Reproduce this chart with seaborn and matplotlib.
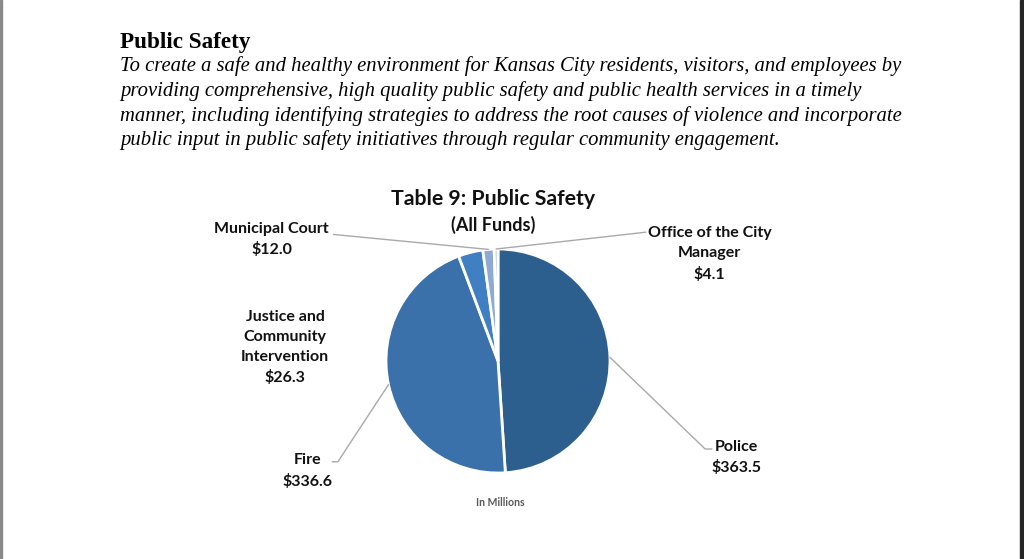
import numpy as np
import matplotlib.pyplot as plt
import seaborn as sns
from matplotlib.patches import Rectangle

# data (in millions)
departments = ['Police', 'Fire', 'Justice and\nCommunity\nIntervention',
               'Municipal Court', 'Office of the City\nManager']
amounts = [363.5, 336.6, 26.3, 12.0, 4.1]
amount_labels = ['$363.5', '$336.6', '$26.3', '$12.0', '$4.1']
colors = ['#2D5F8E', '#3A71AA', '#3F7FC2', '#8FA9D4', '#B7C6E2']

paragraph = [
    'To create a safe and healthy environment for Kansas City residents, visitors, and employees by',
    'providing comprehensive, high quality public safety and public health services in a timely',
    'manner, including identifying strategies to address the root causes of violence and incorporate',
    'public input in public safety initiatives through regular community engagement.',
]

sns.set_theme(style='white')
plt.rcParams['font.family'] = ['Lato', 'DejaVu Sans']

fig = plt.figure(figsize=(10.24, 5.59), dpi=100)
fig.patch.set_facecolor('white')

# page edges
fig.patches.append(Rectangle((0, 0), 0.0015, 1, transform=fig.transFigure,
                             color='#8a8a8a', zorder=10))
fig.patches.append(Rectangle((1020 / 1024, 0), 4 / 1024, 1, transform=fig.transFigure,
                             color='#262626', zorder=10))

# header text
fig.text(120 / 1024, 1 - 48 / 559, 'Public Safety', family='Liberation Serif',
         weight='bold', fontsize=16.7, color='black', va='baseline')
for i, line in enumerate(paragraph):
    fig.text(120 / 1024, 1 - (71.5 + i * 24.5) / 559, line, family='Liberation Serif',
             style='italic', fontsize=14.9, color='black', va='baseline')

# pie
cx, cy, r = 498, 361, 112
ax = fig.add_axes([(cx - r) / 1024, (559 - cy - r) / 559, 2 * r / 1024, 2 * r / 559])
wedges, _ = ax.pie(amounts, colors=colors, startangle=90, counterclock=False,
                   wedgeprops=dict(edgecolor='white', linewidth=2))
ax.set_xlim(-1, 1)
ax.set_ylim(-1, 1)
ax.axis('off')

fig.text(493 / 1024, 1 - 199 / 559, 'Table 9: Public Safety', ha='center', va='center',
         weight='bold', fontsize=15.3, color='#111111')
fig.text(493 / 1024, 1 - 225 / 559, '(All Funds)', ha='center', va='center',
         weight='bold', fontsize=13, color='#111111')
fig.text(500 / 1024, 1 - 503 / 559, 'In Millions', ha='center', va='center',
         weight='bold', fontsize=7.6, color='#595959')

# label layout (data units of the pie axes): text centre, leader line points
layout = {
    0: dict(text=(2.13, -0.86), line=[(1.85, -0.786), (1.91, -0.786)]),
    1: dict(text=(-1.70, -0.98), line=[(-1.43, -0.90), (-1.48, -0.90)]),
    2: dict(text=(-1.90, 0.12), line=None),
    3: dict(text=(-2.02, 1.085), line=[(-1.47, 1.13)]),
    4: dict(text=(1.89, 0.955), line=[(1.32, 1.15)]),
}

for i, w in enumerate(wedges):
    mid = np.deg2rad((w.theta1 + w.theta2) / 2)
    spec = layout[i]
    if spec['line']:
        pts = [(np.cos(mid), np.sin(mid))] + spec['line']
        xs, ys = zip(*pts)
        ax.plot(xs, ys, color='#A9A9A9', lw=1, clip_on=False)
    ax.text(spec['text'][0], spec['text'][1], departments[i] + '\n' + amount_labels[i],
            ha='center', va='center', weight='bold', fontsize=11.5, color='#111111',
            linespacing=1.55, clip_on=False)

fig.savefig('out.png', dpi=100, facecolor='white')
